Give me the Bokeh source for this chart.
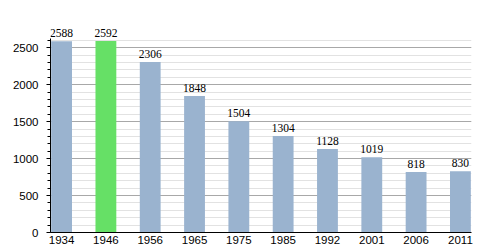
from bokeh.plotting import figure
from bokeh.models import ColumnDataSource, FixedTicker, Range1d, Grid, LabelSet
from bokeh.embed import file_html
from bokeh.resources import INLINE

years = ["1934", "1946", "1956", "1965", "1975", "1985", "1992", "2001", "2006", "2011"]
population = [2588, 2592, 2306, 1848, 1504, 1304, 1128, 1019, 818, 830]
colors = ["#9ab3cf", "#66e066", "#9ab3cf", "#9ab3cf", "#9ab3cf", "#9ab3cf", "#9ab3cf", "#9ab3cf", "#9ab3cf", "#9ab3cf"]
y_major = [0, 500, 1000, 1500, 2000, 2500]
y_minor = list(range(0, 2700, 100))

FONT = "'Liberation Sans', Arial, sans-serif"

idx = list(range(len(years)))
src = ColumnDataSource(dict(x=idx, y=population, c=colors, lab=[str(v) for v in population]))

p = figure(width=500, height=250, output_backend="svg", toolbar_location=None,
           x_range=Range1d(-0.25, 9.25), y_range=Range1d(0, 2800),
           min_border_left=50, min_border_right=29, min_border_top=25, min_border_bottom=18)
p.outline_line_color = None
p.background_fill_color = "white"
p.border_fill_color = "white"

p.xgrid.visible = False
p.ygrid.visible = False
minor = Grid(dimension=1, ticker=FixedTicker(ticks=y_minor), grid_line_color="#e2e2e2", grid_line_width=1)
major = Grid(dimension=1, ticker=FixedTicker(ticks=y_major), grid_line_color="#a8a8a8", grid_line_width=1)
p.add_layout(minor)
p.add_layout(major)

p.vbar(x="x", top="y", width=0.47, fill_color="c", line_color=None, source=src)

labels = LabelSet(x="x", y="y", text="lab", source=src, text_align="center", text_baseline="bottom",
                  y_offset=4, text_font=FONT, text_font_size="11.5px", text_color="black")
p.add_layout(labels)

ya = p.yaxis[0]
ya.ticker = FixedTicker(ticks=y_major, minor_ticks=y_minor)
ya.bounds = (0, 2630)
ya.axis_line_color = "black"
ya.major_tick_out = 4
ya.major_tick_in = 0
ya.minor_tick_out = 3
ya.minor_tick_in = 0
ya.major_label_standoff = 8
ya.major_label_text_font = FONT
ya.major_label_text_font_size = "11.5px"
ya.major_label_text_color = "black"

xa = p.xaxis[0]
xa.ticker = FixedTicker(ticks=idx)
xa.major_label_overrides = {i: y for i, y in zip(idx, years)}
xa.axis_line_color = "black"
xa.major_tick_out = 0
xa.major_tick_in = 0
xa.minor_tick_line_color = None
xa.major_label_standoff = 3
xa.major_label_text_font = FONT
xa.major_label_text_font_size = "11.5px"
xa.major_label_text_color = "black"

open("out.html", "w").write(file_html(p, INLINE))
